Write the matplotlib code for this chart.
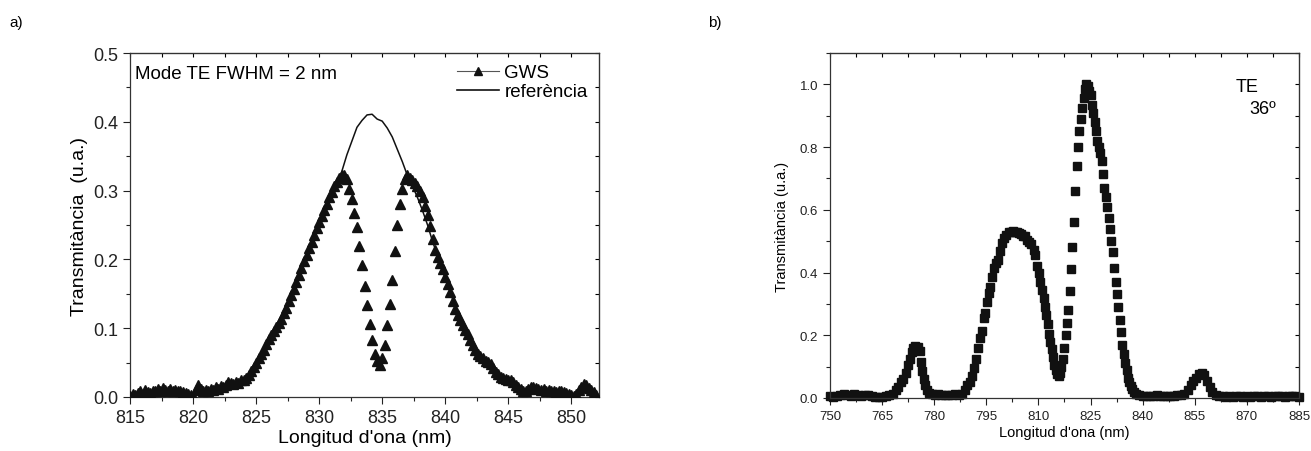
import numpy as np
import matplotlib.pyplot as plt
from matplotlib.lines import Line2D
from matplotlib.ticker import MultipleLocator

plt.rcParams['font.family'] = ['Liberation Sans', 'DejaVu Sans']

# ---- panel a) : GWS filter vs reference (0.2 nm sampling for GWS, 0.4 nm for reference)
gws_start, gws_step = 815.0, 0.2
gws_y = [
    0.002, 0.004, 0.003, 0.006, 0.008, 0.005, 0.010, 0.007, 0.006, 0.009,
    0.008, 0.011, 0.009, 0.013, 0.010, 0.008, 0.011, 0.009, 0.010, 0.008,
    0.009, 0.007, 0.006, 0.004, 0.003, 0.002, 0.010, 0.018, 0.012, 0.008,
    0.010, 0.009, 0.012, 0.010, 0.014, 0.012, 0.016, 0.014, 0.018, 0.022,
    0.020, 0.019, 0.022, 0.020, 0.024, 0.025, 0.027, 0.032, 0.038, 0.044,
    0.050, 0.056, 0.062, 0.069, 0.077, 0.084, 0.090, 0.096, 0.102, 0.108,
    0.114, 0.122, 0.130, 0.139, 0.148, 0.157, 0.167, 0.177, 0.187, 0.197,
    0.207, 0.216, 0.226, 0.236, 0.245, 0.254, 0.263, 0.272, 0.281, 0.290,
    0.298, 0.306, 0.313, 0.319, 0.323, 0.322, 0.317, 0.302, 0.288, 0.268,
    0.247, 0.220, 0.192, 0.162, 0.133, 0.106, 0.083, 0.063, 0.052, 0.047,
    0.056, 0.075, 0.104, 0.135, 0.170, 0.212, 0.250, 0.281, 0.303, 0.317,
    0.322, 0.319, 0.315, 0.311, 0.306, 0.299, 0.290, 0.278, 0.264, 0.248,
    0.230, 0.214, 0.203, 0.195, 0.186, 0.175, 0.164, 0.152, 0.140, 0.128,
    0.119, 0.112, 0.105, 0.098, 0.091, 0.083, 0.076, 0.069, 0.063, 0.059,
    0.056, 0.053, 0.051, 0.048, 0.042, 0.037, 0.033, 0.029, 0.027, 0.026,
    0.025, 0.024, 0.022, 0.018, 0.014, 0.011, 0.009, 0.008, 0.011, 0.014,
    0.015, 0.013, 0.012, 0.010, 0.011, 0.009, 0.010, 0.008, 0.009, 0.007,
    0.008, 0.009, 0.007, 0.006, 0.005, 0.003, 0.002, 0.005, 0.010, 0.015,
    0.019, 0.017, 0.013, 0.010, 0.007, 0.003,
]
ref_start, ref_step = 815.0, 0.4
ref_y = [
    0.003, 0.004, 0.006, 0.007, 0.005, 0.007, 0.008, 0.006, 0.008, 0.007,
    0.006, 0.005, 0.003, 0.004, 0.006, 0.007, 0.009, 0.010, 0.012, 0.013,
    0.015, 0.016, 0.019, 0.023, 0.033, 0.046, 0.058, 0.071, 0.085, 0.099,
    0.111, 0.126, 0.144, 0.163, 0.183, 0.203, 0.222, 0.242, 0.259, 0.277,
    0.294, 0.311, 0.328, 0.352, 0.372, 0.392, 0.402, 0.410, 0.411, 0.404,
    0.401, 0.391, 0.378, 0.360, 0.342, 0.322, 0.307, 0.290, 0.271, 0.250,
    0.226, 0.205, 0.183, 0.162, 0.142, 0.122, 0.106, 0.090, 0.076, 0.064,
    0.055, 0.047, 0.040, 0.033, 0.028, 0.023, 0.019, 0.015, 0.012, 0.011,
    0.012, 0.010, 0.009, 0.008, 0.007, 0.007, 0.006, 0.004, 0.002, 0.006,
    0.012, 0.010, 0.005, 0.003,
]
gws_x = gws_start + gws_step * np.arange(len(gws_y))
ref_x = ref_start + ref_step * np.arange(len(ref_y))

# ---- panel b) : TE, 36 deg
b_x = [
    750, 751, 752, 753, 754, 755, 756, 757, 758, 759, 760, 761, 762, 763, 764,
    765, 766, 767, 768, 769, 769.7, 770.4, 771.1, 771.8, 772.5, 773.0, 773.5,
    774.0, 774.6, 775.2, 775.8, 776.2, 776.6, 777.0, 777.4, 777.9, 778.5,
    779.3, 780.2, 781, 782, 783, 784, 785, 786, 787, 788, 788.8, 789.5, 790.2,
    790.9, 791.5, 792.1, 792.7, 793.2, 793.7, 794.2, 794.7, 795.2, 795.7,
    796.2, 796.7, 797.2, 797.8, 798.4, 799.0, 799.6, 800.2, 800.8, 801.4,
    802.0, 802.6, 803.2, 803.8, 804.4, 805.0, 805.6, 806.2, 806.8, 807.4,
    808.0, 808.6, 809.1, 809.6, 810.1, 810.6, 811.1, 811.5, 811.9, 812.3,
    812.7, 813.1, 813.4, 813.8, 814.2, 814.6, 815.0, 815.4, 815.8, 816.2,
    816.6, 817.0, 817.4, 817.8, 818.2, 818.6, 819.0, 819.4, 819.8, 820.2,
    820.6, 821.0, 821.4, 821.8, 822.2, 822.6, 823.0, 823.4, 823.8, 824.2,
    824.6, 825.0, 825.4, 825.8, 826.2, 826.6, 827.0, 827.4, 827.8, 828.2,
    828.6, 829.0, 829.4, 829.8, 830.2, 830.6, 831.0, 831.4, 831.8, 832.2,
    832.6, 833.0, 833.4, 833.8, 834.2, 834.6, 835.0, 835.4, 835.8, 836.2,
    836.6, 837.0, 837.5, 838.2, 839, 840, 841, 842, 843, 844, 845, 846, 847,
    848, 849, 850, 851, 852, 853, 853.8, 854.6, 855.4, 856.2, 857.0, 857.8,
    858.6, 859.3, 860, 861, 862, 863, 864, 865, 866, 867, 868, 869, 870, 871,
    872, 873, 874, 875, 876, 877, 878, 879, 880, 881, 882, 883, 884, 885,
]
b_y = [
    0.005, 0.004, 0.006, 0.008, 0.012, 0.010, 0.007, 0.012, 0.009, 0.006,
    0.010, 0.008, 0.005, 0.003, 0.002, 0.003, 0.006, 0.010, 0.012, 0.025,
    0.035, 0.050, 0.062, 0.080, 0.105, 0.125, 0.148, 0.160, 0.165, 0.162,
    0.150, 0.115, 0.085, 0.060, 0.040, 0.025, 0.016, 0.012, 0.010, 0.012,
    0.010, 0.011, 0.009, 0.010, 0.012, 0.008, 0.012, 0.025, 0.040, 0.052,
    0.070, 0.095, 0.125, 0.160, 0.190, 0.215, 0.255, 0.270, 0.305, 0.335,
    0.355, 0.385, 0.415, 0.430, 0.440, 0.470, 0.495, 0.510, 0.520, 0.528,
    0.530, 0.532, 0.528, 0.530, 0.525, 0.522, 0.518, 0.515, 0.505, 0.497,
    0.490, 0.472, 0.455, 0.420, 0.400, 0.370, 0.345, 0.320, 0.290, 0.265,
    0.235, 0.205, 0.180, 0.155, 0.130, 0.105, 0.088, 0.075, 0.070, 0.080,
    0.100, 0.125, 0.160, 0.200, 0.240, 0.280, 0.340, 0.410, 0.480, 0.560,
    0.660, 0.740, 0.800, 0.850, 0.890, 0.925, 0.955, 0.985, 1.000, 0.995,
    0.980, 0.965, 0.935, 0.910, 0.880, 0.850, 0.820, 0.800, 0.780, 0.755,
    0.715, 0.670, 0.640, 0.610, 0.575, 0.540, 0.500, 0.465, 0.415, 0.370,
    0.330, 0.290, 0.250, 0.210, 0.170, 0.140, 0.110, 0.090, 0.065, 0.050,
    0.038, 0.028, 0.020, 0.014, 0.010, 0.007, 0.006, 0.005, 0.006, 0.008,
    0.006, 0.005, 0.006, 0.005, 0.006, 0.008, 0.010, 0.014, 0.025, 0.040,
    0.055, 0.065, 0.075, 0.080, 0.072, 0.055, 0.035, 0.018, 0.010, 0.006,
    0.005, 0.004, 0.005, 0.004, 0.006, 0.005, 0.004, 0.005, 0.004, 0.006,
    0.005, 0.004, 0.006, 0.005, 0.004, 0.007, 0.006, 0.005, 0.004, 0.006,
    0.007, 0.005, 0.004,
]


def mirror_axes(ax, xminor, yminor, size):
    # Origin-like frame: outward ticks bottom/left, inward ticks top/right
    ax.tick_params(which='both', direction='out', top=False, right=False,
                   labelsize=size, width=0.8, colors='#222222')
    ax.tick_params(which='major', length=5)
    ax.tick_params(which='minor', length=3)
    for s in ax.spines.values():
        s.set_linewidth(0.9)
        s.set_color('#333333')
    top = ax.secondary_xaxis('top')
    top.xaxis.set_major_locator(ax.xaxis.get_major_locator())
    top.xaxis.set_minor_locator(MultipleLocator(xminor))
    top.tick_params(which='both', direction='in', labeltop=False, length=3, width=0.8)
    right = ax.secondary_yaxis('right')
    right.yaxis.set_major_locator(ax.yaxis.get_major_locator())
    right.yaxis.set_minor_locator(MultipleLocator(yminor))
    right.tick_params(which='both', direction='in', labelright=False, length=3, width=0.8)


fig = plt.figure(figsize=(13.11, 4.52), dpi=100)

# panel a
ax1 = fig.add_axes([0.0992, 0.1195, 0.3577, 0.761])
ax1.plot(ref_x, ref_y, color='#111111', lw=1.1, zorder=2)
ax1.plot(gws_x, gws_y, ls='none', marker='^', ms=6.5, color='#111111', zorder=3)
ax1.set_xlim(815, 852.2)
ax1.set_ylim(0, 0.5)
ax1.xaxis.set_major_locator(MultipleLocator(5))
ax1.xaxis.set_minor_locator(MultipleLocator(2.5))
ax1.yaxis.set_major_locator(MultipleLocator(0.1))
ax1.yaxis.set_minor_locator(MultipleLocator(0.05))
ax1.yaxis.set_major_formatter('{x:.1f}')
mirror_axes(ax1, 2.5, 0.05, 13)
ax1.set_xlabel("Longitud d'ona (nm)", fontsize=14, labelpad=2)
ax1.set_ylabel("Transmitància  (u.a.)", fontsize=14, labelpad=4)
ax1.text(0.01, 0.965, "Mode TE FWHM = 2 nm", transform=ax1.transAxes,
         fontsize=13.5, va='top', ha='left')
handles = [Line2D([], [], color='#555555', lw=0.8, marker='^', ms=6,
                  markerfacecolor='#111111', markeredgecolor='#111111'),
           Line2D([], [], color='#111111', lw=1.2)]
ax1.legend(handles, ['GWS', 'referència'], loc='upper right', frameon=False,
           fontsize=13.5, handlelength=2.2, handletextpad=0.3,
           borderaxespad=0.2, labelspacing=0.1)

# panel b
ax2 = fig.add_axes([0.6331, 0.1173, 0.3577, 0.7632])
ax2.plot(b_x, b_y, ls='none', marker='s', ms=5.2, color='#111111', clip_on=False)
ax2.set_xlim(750, 885)
ax2.set_ylim(0, 1.1)
ax2.xaxis.set_major_locator(MultipleLocator(15))
ax2.xaxis.set_minor_locator(MultipleLocator(7.5))
ax2.yaxis.set_major_locator(MultipleLocator(0.2))
ax2.yaxis.set_minor_locator(MultipleLocator(0.1))
ax2.yaxis.set_major_formatter('{x:.1f}')
mirror_axes(ax2, 7.5, 0.1, 9.5)
ax2.set_xlabel("Longitud d'ona (nm)", fontsize=10.5, labelpad=2)
ax2.set_ylabel("Transmitància (u.a.)", fontsize=10.5, labelpad=8)
ax2.text(0.889, 0.904, "TE", transform=ax2.transAxes, fontsize=13,
         ha='center', va='center')
ax2.text(0.923, 0.838, "36º", transform=ax2.transAxes, fontsize=13,
         ha='center', va='center')

fig.text(0.007, 0.94, "a)", fontsize=11)
fig.text(0.540, 0.94, "b)", fontsize=11)

fig.savefig('out.png', dpi=100)
